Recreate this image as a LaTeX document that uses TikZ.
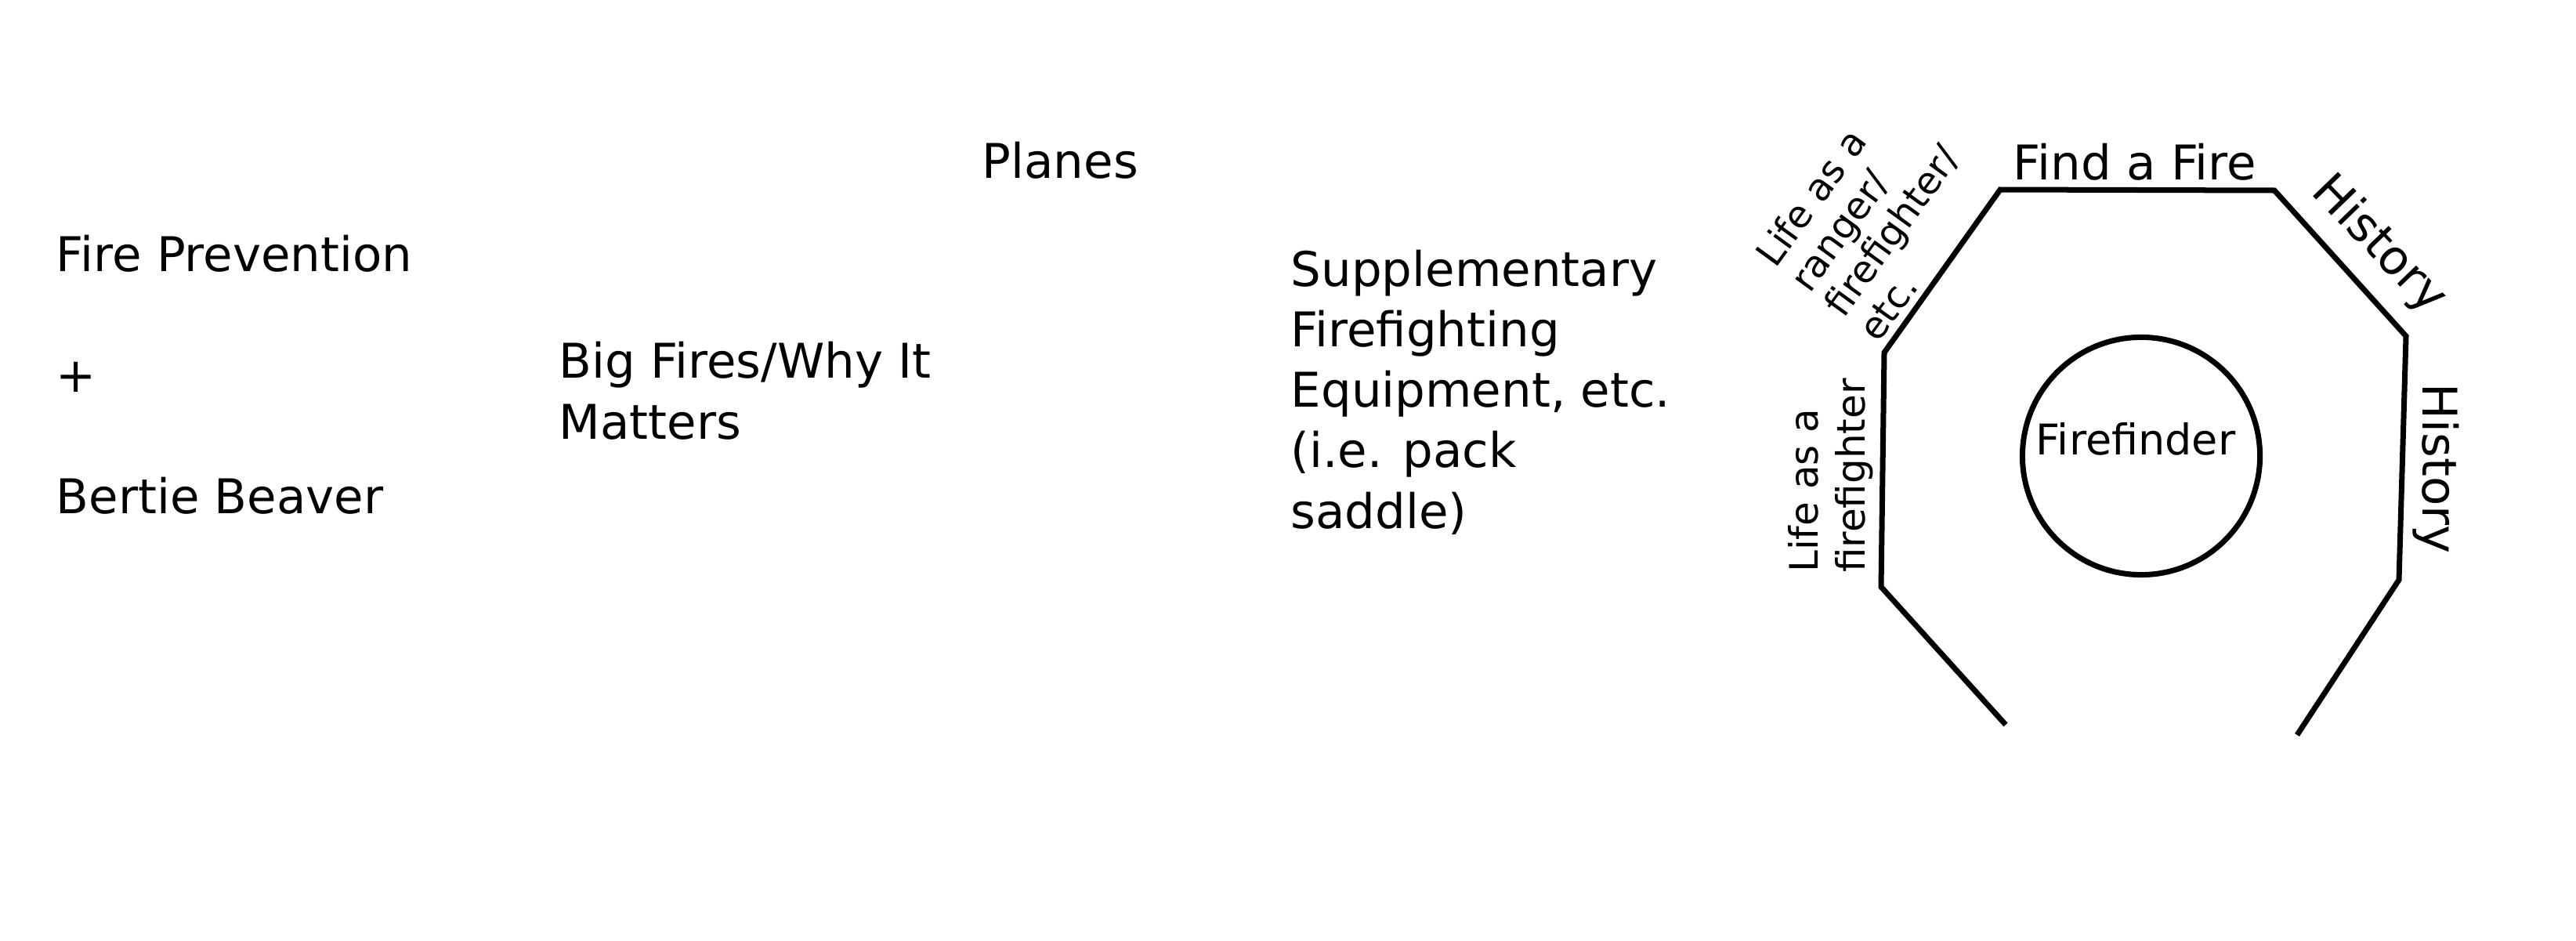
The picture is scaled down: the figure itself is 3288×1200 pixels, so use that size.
\documentclass[tikz,border=0pt]{standalone}
\usepackage{fontspec}
\setmainfont{DejaVu Sans}

\begin{document}
\begin{tikzpicture}[x=0.01cm,y=-0.01cm,
	txt/.style={inner sep=0pt,align=left,font=\fontsize{0.61cm}{0.77cm}\selectfont},
	sidetxt/.style={inner sep=0pt,align=left,font=\fontsize{0.5cm}{0.6cm}\selectfont},
	tinytxt/.style={inner sep=0pt,align=left,font=\fontsize{0.48cm}{0.54cm}\selectfont},
	wall/.style={line width=0.07cm},
	ring/.style={circle,draw,line width=0.07cm,minimum size=3.03cm,inner sep=0pt}]
	\useasboundingbox (0,0) rectangle (3288,1200);

	% multi-line nodes: base is the last line
	\node[txt,anchor=base west] (planes) at (1253,227) {Planes};
	\node[txt,anchor=base west] (prevention) at (71,655) {Fire Prevention\\[0.77cm]+\\[0.77cm]Bertie Beaver};
	\node[txt,anchor=base west] (bigfires) at (713,560) {Big Fires/Why It\\Matters};
	\node[txt,anchor=base west] (equipment) at (1647,674) {Supplementary\\Firefighting\\Equipment, etc.\\(i.e. pack\\saddle)};

	% octagon, bottom side left open
	\coordinate (o1) at (2560,925);
	\coordinate (o2) at (2401,749);
	\coordinate (o3) at (2405,450);
	\coordinate (o4) at (2553,242);
	\coordinate (o5) at (2903,243);
	\coordinate (o6) at (3071,429);
	\coordinate (o7) at (3062,740);
	\coordinate (o8) at (2932,938);
	\draw[wall] (o1) -- (o2) -- (o3) -- (o4) -- (o5) -- (o6) -- (o7) -- (o8);

	\node[ring] (dial) at (2733,582) {};
	\node[inner sep=0pt,anchor=base,font=\fontsize{0.54cm}{0.65cm}\selectfont] (firefinder) at (2726,580) {Firefinder};

	\node[txt,anchor=base] (findfire) at (2725,229) {Find a Fire};
	\node[txt,anchor=base west,rotate=-90] (histside) at (3092,489) {History};
	\node[txt,rotate=-46] (histtop) at (3036,313) {History};
	\node[sidetxt,rotate=90] (lifeside) at (2337,607) {Life as a\\firefighter};
	\node[tinytxt,rotate=54] (liferanger) at (2392,278) {Life as a\\ranger/\\firefighter/\\etc.};
\end{tikzpicture}
\end{document}
